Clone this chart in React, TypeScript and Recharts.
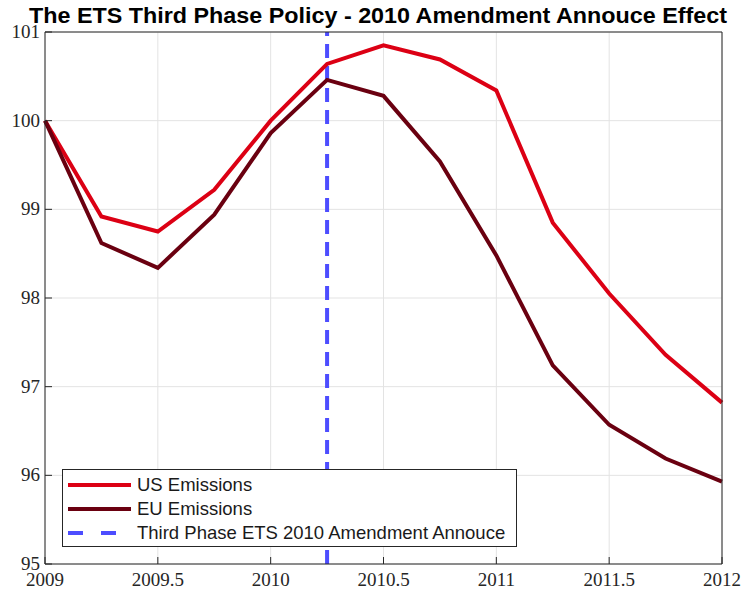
import { LineChart, Line, XAxis, YAxis, CartesianGrid, ReferenceLine, Legend } from "recharts";

const years = [2009, 2009.25, 2009.5, 2009.75, 2010, 2010.25, 2010.5, 2010.75, 2011, 2011.25, 2011.5, 2011.75, 2012];
const usEmissions = [100, 98.92, 98.75, 99.22, 100.0, 100.64, 100.85, 100.69, 100.34, 98.85, 98.05, 97.36, 96.82];
const euEmissions = [100, 98.62, 98.34, 98.94, 99.86, 100.46, 100.28, 99.54, 98.48, 97.24, 96.57, 96.19, 95.93];

const xTicks = [2009, 2009.5, 2010, 2010.5, 2011, 2011.5, 2012];
const yTicks = [95, 96, 97, 98, 99, 100, 101];
const amendmentYear = 2010.25;

const title = "The ETS Third Phase Policy - 2010 Amendment Annouce Effect";
const seriesNames = ["US Emissions", "EU Emissions", "Third Phase ETS 2010 Amendment Annouce"];
const US_COLOR = "#dc0014";
const EU_COLOR = "#6a0010";
const LINE_COLOR = "#4d4dff";

const data = years.map((year, i) => ({ year, us: usEmissions[i], eu: euEmissions[i] }));

const TICK = 7;
const tickFont = { fontFamily: "'Liberation Serif', 'DejaVu Serif', serif", fontSize: 19, fill: "#262626" };

const BottomTick = ({ x, y, payload }: any) => (
  <g>
    <line x1={x} y1={y} x2={x} y2={y - TICK} stroke="#262626" strokeWidth={1} />
    <text x={x} y={y + 22} textAnchor="middle" {...tickFont}>{payload.value}</text>
  </g>
);

const TopTick = ({ x, y }: any) => (
  <line x1={x} y1={y} x2={x} y2={y + TICK} stroke="#262626" strokeWidth={1} />
);

const LeftTick = ({ x, y, payload }: any) => (
  <g>
    <line x1={x} y1={y} x2={x + TICK} y2={y} stroke="#262626" strokeWidth={1} />
    <text x={x - 5} y={y + 6} textAnchor="end" {...tickFont}>{payload.value}</text>
  </g>
);

const RightTick = ({ x, y }: any) => (
  <line x1={x} y1={y} x2={x - TICK} y2={y} stroke="#262626" strokeWidth={1} />
);

const LegendBox = () => {
  const colors = [US_COLOR, EU_COLOR, LINE_COLOR];
  return (
    <div
      style={{
        position: "absolute",
        left: 62,
        top: 469,
        width: 455,
        height: 78,
        border: "1px solid #262626",
        background: "#fff",
        boxSizing: "border-box",
        fontFamily: "'Liberation Sans', Arial, sans-serif",
        fontSize: 18.5,
        color: "#1a1a1a",
        paddingTop: 3,
      }}
    >
      {seriesNames.map((name, i) => (
        <div key={name} style={{ display: "flex", alignItems: "center", height: 24 }}>
          <svg width={69} height={10} style={{ marginLeft: 5 }}>
            <line
              x1={0}
              y1={5}
              x2={63}
              y2={5}
              stroke={colors[i]}
              strokeWidth={4}
              strokeDasharray={i === 2 ? "15 18" : undefined}
            />
          </svg>
          <span>{name}</span>
        </div>
      ))}
    </div>
  );
};

export default function App() {
  return (
    <div style={{ position: "absolute", left: 0, top: 0, width: 743, height: 597, background: "#fff" }}>
      <svg width={743} height={30} style={{ position: "absolute", left: 0, top: 0 }}>
        <text
          x={378}
          y={23}
          textAnchor="middle"
          textLength={698}
          lengthAdjust="spacingAndGlyphs"
          fontFamily="'Liberation Sans', Arial, sans-serif"
          fontWeight="bold"
          fontSize={21.5}
          fill="#000"
        >
          {title}
        </text>
      </svg>
      <div style={{ position: "absolute", left: 0, top: 0 }}>
        <LineChart width={743} height={597} data={data} margin={{ top: 31, right: 20, left: 44, bottom: 0 }}>
          <CartesianGrid stroke="#e3e3e3" strokeWidth={1} />
          <XAxis
            dataKey="year"
            type="number"
            domain={[2009, 2012]}
            ticks={xTicks}
            height={33}
            tickSize={0}
            tickMargin={0}
            axisLine={{ stroke: "#262626" }}
            tick={<BottomTick />}
            interval={0}
          />
          <XAxis
            xAxisId="top"
            orientation="top"
            type="number"
            domain={[2009, 2012]}
            ticks={xTicks}
            height={1}
            tickSize={0}
            tickMargin={0}
            axisLine={{ stroke: "#262626" }}
            tick={<TopTick />}
            interval={0}
          />
          <YAxis
            type="number"
            domain={[95, 101]}
            ticks={yTicks}
            width={1}
            tickSize={0}
            tickMargin={0}
            axisLine={{ stroke: "#262626" }}
            tick={<LeftTick />}
            interval={0}
          />
          <YAxis
            yAxisId="right"
            orientation="right"
            type="number"
            domain={[95, 101]}
            ticks={yTicks}
            width={1}
            tickSize={0}
            tickMargin={0}
            axisLine={{ stroke: "#262626" }}
            tick={<RightTick />}
            interval={0}
          />
          <ReferenceLine x={amendmentYear} stroke={LINE_COLOR} strokeWidth={4} strokeDasharray="14 8" />
          <Line
            type="linear"
            dataKey="us"
            name={seriesNames[0]}
            stroke={US_COLOR}
            strokeWidth={4}
            dot={false}
            isAnimationActive={false}
          />
          <Line
            type="linear"
            dataKey="eu"
            name={seriesNames[1]}
            stroke={EU_COLOR}
            strokeWidth={4}
            dot={false}
            isAnimationActive={false}
          />
          <Legend content={() => null} />
        </LineChart>
      </div>
      <LegendBox />
    </div>
  );
}
